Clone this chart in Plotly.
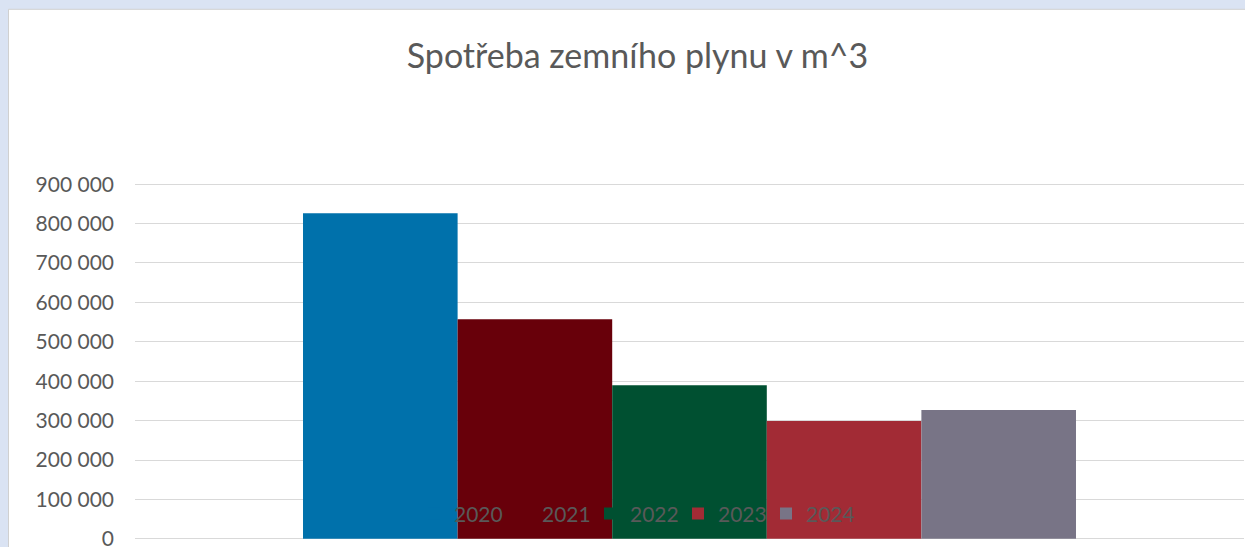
import plotly.graph_objects as go

years = ["2020", "2021", "2022", "2023", "2024"]
values = [826000, 557000, 390000, 299000, 327000]
colors = ["#0071AB", "#68000A", "#005031", "#A22B35", "#787486"]
category = ["Spotřeba"]
tick_vals = [0, 100000, 200000, 300000, 400000, 500000, 600000, 700000, 800000, 900000]
tick_text = ["0", "100 000", "200 000", "300 000", "400 000", "500 000",
             "600 000", "700 000", "800 000", "900 000"]

W, H = 1245, 547
PAD = 3000
Y0, Y1 = -PAD, 900000 + PAD
scale = 355.3 / 900000          # px per unit
L, R = 135, 1
T = 183.7 - PAD * scale
B = H - (539 + PAD * scale)
pw = W - L - R
ph = H - T - B

def px2x(px):
    return (px - L) / pw

def py2y(py):
    return (H - B - py) / ph

fig = go.Figure()
for yr, v, c in zip(years, values, colors):
    fig.add_trace(go.Bar(x=category, y=[v], name=yr, marker=dict(color=c, line=dict(width=0))))

fig.update_layout(
    width=W, height=H,
    margin=dict(l=L, r=R, t=T, b=B, autoexpand=False),
    paper_bgcolor="#DAE3F3",
    plot_bgcolor="rgba(0,0,0,0)",
    barmode="group",
    bargap=0.303,
    bargroupgap=0,
    font=dict(family="Lato, Carlito, sans-serif", color="#595959"),
    title=dict(text="Spotřeba zemního plynu v m^3", font=dict(size=34, color="#595959"),
               x=637.5 / W, xref="container", xanchor="center",
               y=1 - 56 / H, yref="container", yanchor="middle"),
    showlegend=True,
    legend=dict(orientation="h", x=px2x(634), xanchor="center", y=py2y(514), yanchor="middle",
                bgcolor="rgba(0,0,0,0)", font=dict(size=21, color="#595959"),
                entrywidth=43, entrywidthmode="pixels", traceorder="normal"),
    shapes=[dict(type="rect", xref="paper", yref="paper", layer="below",
                 x0=px2x(8.5), x1=px2x(1260), y0=py2y(560), y1=py2y(8.5),
                 fillcolor="white", line=dict(color="#D0D0D0", width=1))],
)
fig.update_xaxes(showticklabels=False, showgrid=False, zeroline=False, showline=False,
                 automargin=False)
fig.update_yaxes(range=[Y0, Y1], tickvals=tick_vals, ticktext=tick_text,
                 tickfont=dict(size=21, color="#595959"), gridcolor="#D9D9D9", gridwidth=1.3,
                 zeroline=False, showline=False, ticklabelstandoff=20,
                 ticklabeloverflow="allow", automargin=False)

fig.write_html("out.html",
               config={"displayModeBar": False},
               post_script="document.body.style.margin='0';document.body.style.overflow='hidden';"
                           "document.body.style.background='#DAE3F3';")
